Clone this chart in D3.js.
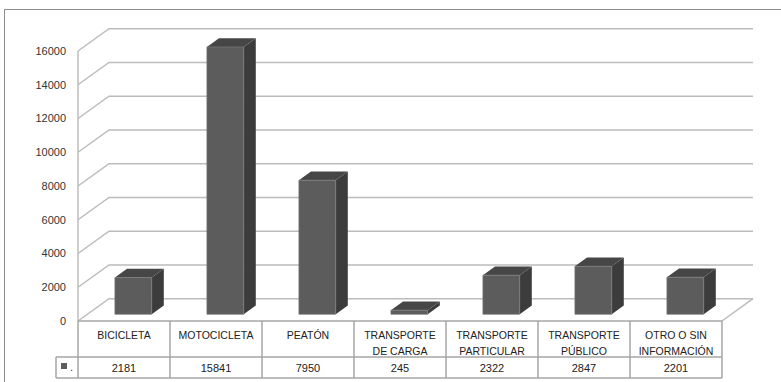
<!DOCTYPE html>
<html>
<head>
<meta charset="utf-8">
<script src="https://cdn.jsdelivr.net/npm/d3@7"></script>
<style>
  body { margin: 0; background: #fff; }
  svg { display: block; font-family: "Liberation Sans", Arial, sans-serif; }
</style>
</head>
<body>
<script>
const width = 781;
const height = 382;

// Données
const categorias = ["BICICLETA", "MOTOCICLETA", "PEATÓN", "TRANSPORTE DE CARGA",
  "TRANSPORTE PARTICULAR", "TRANSPORTE PÚBLICO", "OTRO O SIN INFORMACIÓN"];
const etiquetas = [["BICICLETA"], ["MOTOCICLETA"], ["PEATÓN"], ["TRANSPORTE", "DE CARGA"],
  ["TRANSPORTE", "PARTICULAR"], ["TRANSPORTE", "PÚBLICO"], ["OTRO O SIN", "INFORMACIÓN"]];
const valores = [2181, 15841, 7950, 245, 2322, 2847, 2201];
const ticks = [0, 2000, 4000, 6000, 8000, 10000, 12000, 14000, 16000];

// Profondeur 3D
const DX = 31, DY = 22.3;
const z0 = 0.3, z1 = 0.69; // avant / arrière des barres

const svg = d3.select("body").append("svg")
  .attr("width", width)
  .attr("height", height);

const x = d3.scaleBand().domain(categorias).range([78, 722]).padding(0);
const y = d3.scaleLinear().domain([0, 16000]).range([321, 51]);

// projection simple
const P = (px, v, z) => [px + z * DX, y(v) - z * DY];

const grid = "#bcbcbc";

// bordure du graphique (haut + gauche)
svg.append("path")
  .attr("d", `M4.5,${height} V9.5 H${width}`)
  .attr("fill", "none").attr("stroke", "#8c8c8c").attr("stroke-width", 1);

// mur du fond + mur de gauche
ticks.forEach(t => {
  const a = P(78, t, 0), b = P(78, t, 1), c = P(722, t, 1);
  svg.append("path")
    .attr("d", `M${a[0]},${a[1]} L${b[0]},${b[1]} L${c[0]},${c[1]}`)
    .attr("fill", "none").attr("stroke", grid).attr("stroke-width", 1.5);
});
// diagonale droite du sol
{
  const a = P(722, 0, 0), b = P(722, 0, 1);
  svg.append("line").attr("x1", a[0]).attr("y1", a[1]).attr("x2", b[0]).attr("y2", b[1])
    .attr("stroke", grid).attr("stroke-width", 1.5);
}
// axe vertical
svg.append("line").attr("x1", 78).attr("x2", 78).attr("y1", y(16000)).attr("y2", y(0))
  .attr("stroke", grid).attr("stroke-width", 1.5);

// étiquettes de l'axe
svg.selectAll("text.tick").data(ticks).enter().append("text")
  .attr("class", "tick")
  .attr("x", 66).attr("y", d => y(d)).attr("dy", "0.35em")
  .attr("text-anchor", "end").attr("font-size", 11).attr("fill", "#333")
  .text(d => d);

// barres 3D
const bw = x.bandwidth() * 0.4;
const bars = svg.selectAll("g.bar").data(valores).enter().append("g").attr("class", "bar");
bars.each(function (v, i) {
  const g = d3.select(this);
  const cx = x(categorias[i]) + x.bandwidth() / 2;
  const xl = cx - bw / 2, xr = cx + bw / 2;
  const pt = (px, val, z) => P(px, val, z).join(",");
  // côté
  g.append("polygon")
    .attr("points", [pt(xr, 0, z0), pt(xr, 0, z1), pt(xr, v, z1), pt(xr, v, z0)].join(" "))
    .attr("fill", "#3c3c3c");
  // dessus
  g.append("polygon")
    .attr("points", [pt(xl, v, z0), pt(xr, v, z0), pt(xr, v, z1), pt(xl, v, z1)].join(" "))
    .attr("fill", "#464646");
  // face avant
  g.append("polygon")
    .attr("points", [pt(xl, 0, z0), pt(xr, 0, z0), pt(xr, v, z0), pt(xl, v, z0)].join(" "))
    .attr("fill", "#5c5c5c").attr("stroke", "#7a7a7a").attr("stroke-width", 0.7);
});

// tableau de données
const tcol = "#a6a6a6";
const yTop = 321, yMid = 357, yBot = 378;
svg.append("line").attr("x1", 78).attr("x2", 722).attr("y1", yTop).attr("y2", yTop)
  .attr("stroke", tcol).attr("stroke-width", 1.5);
[yMid, yBot].forEach(yy => svg.append("line").attr("x1", 56).attr("x2", 722)
  .attr("y1", yy).attr("y2", yy).attr("stroke", tcol).attr("stroke-width", 1.5));
categorias.forEach(c => {
  svg.append("line").attr("x1", x(c)).attr("x2", x(c)).attr("y1", yTop).attr("y2", yBot)
    .attr("stroke", tcol).attr("stroke-width", 1.5);
});
svg.append("line").attr("x1", 722).attr("x2", 722).attr("y1", yTop).attr("y2", yBot)
  .attr("stroke", tcol).attr("stroke-width", 1.5);
svg.append("line").attr("x1", 56).attr("x2", 56).attr("y1", yMid).attr("y2", yBot)
  .attr("stroke", tcol).attr("stroke-width", 1.5);

// clé de légende
svg.append("rect").attr("x", 61).attr("y", 363).attr("width", 6).attr("height", 6).attr("fill", "#5c5c5c");
svg.append("text").attr("x", 70).attr("y", 371).attr("font-size", 11).attr("fill", "#333").text(".");

// en-têtes
categorias.forEach((c, i) => {
  const t = svg.append("text")
    .attr("x", x(c) + x.bandwidth() / 2).attr("y", 339)
    .attr("text-anchor", "middle").attr("font-size", 10.5).attr("fill", "#222");
  etiquetas[i].forEach((l, j) => {
    t.append("tspan").attr("x", x(c) + x.bandwidth() / 2).attr("dy", j === 0 ? 0 : 15.5).text(l);
  });
  svg.append("text")
    .attr("x", x(c) + x.bandwidth() / 2).attr("y", 372)
    .attr("text-anchor", "middle").attr("font-size", 11).attr("fill", "#222")
    .text(valores[i]);
});
</script>
</body>
</html>
